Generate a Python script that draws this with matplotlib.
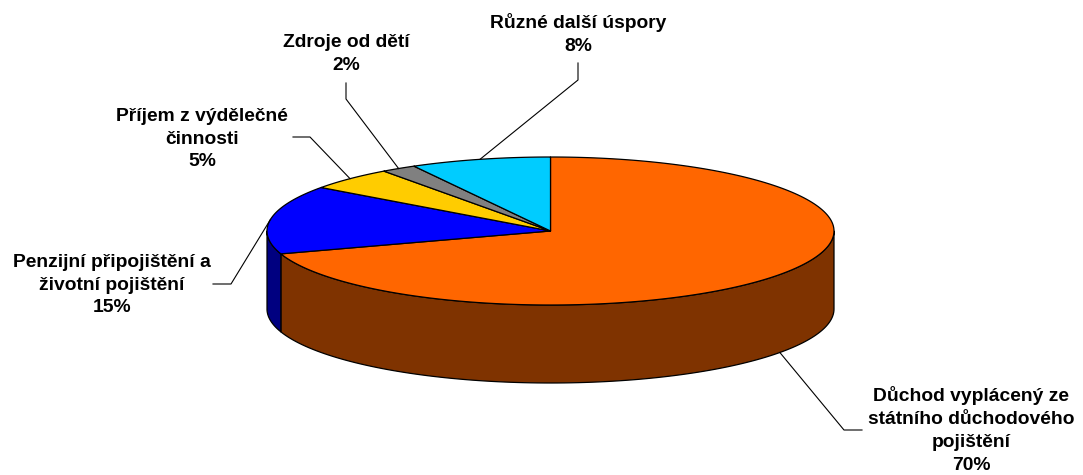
import numpy as np
import matplotlib
matplotlib.use("Agg")
import matplotlib.pyplot as plt
from matplotlib.patches import Polygon

# slice data (clockwise from 12 o'clock)
labels = ["Důchod vyplácený ze\nstátního důchodového\npojištění",
          "Penzijní připojištění a\nživotní pojištění",
          "Příjem z výdělečné\nčinnosti",
          "Zdroje od dětí",
          "Různé další úspory"]
values = [70, 15, 5, 2, 8]
pct_labels = ["70%", "15%", "5%", "2%", "8%"]
top_colors = ["#FF6600", "#0000FF", "#FFCC00", "#808080", "#00CCFF"]
side_colors = ["#7F3300", "#000080", "#7F6600", "#404040", "#00667F"]

# layout (pixel space)
CX, CY = 550.5, 231.0
RX, RY = 283.5, 74.0
DEPTH = 78.0
label_xy = [(971, 430), (112, 285), (202, 139), (346, 54), (578, 34)]
elbows = [[(844, 430), (862, 430)],
          [(231, 284), (213, 284)],
          [(310, 137), (293, 137)],
          [(346, 99), (346, 83)],
          [(578, 80), (578, 63)]]

FONT = dict(family="Liberation Sans", weight="bold", size=13.9)


def ell(theta, dy=0.0):
    t = np.radians(theta)
    return CX + RX * np.cos(t), CY - RY * np.sin(t) + dy


fig = plt.figure(figsize=(10.83, 4.75), dpi=100)
ax = fig.add_axes([0, 0, 1, 1])
ax.set_xlim(0, 1083)
ax.set_ylim(475, 0)
ax.axis("off")

total = float(sum(values))
fr = np.array(values) / total
cum = np.concatenate([[0], np.cumsum(fr)])
starts = 90 - 360 * cum[:-1]
ends = 90 - 360 * cum[1:]

# side walls (visible front half only)
for i in range(len(values)):
    a0, a1 = ends[i], starts[i]
    for k in (-1, 0, 1):
        lo, hi = max(a0, k * 360 - 180), min(a1, k * 360)
        if hi - lo <= 0:
            continue
        th = np.linspace(lo, hi, 120)
        xt, yt = ell(th)
        xb, yb = ell(th[::-1], DEPTH)
        pts = np.column_stack([np.concatenate([xt, xb]), np.concatenate([yt, yb])])
        ax.add_patch(Polygon(pts, closed=True, facecolor=side_colors[i],
                             edgecolor="black", lw=0.9, joinstyle="round"))

# top faces
for i in range(len(values)):
    th = np.linspace(starts[i], ends[i], 200)
    xt, yt = ell(th)
    pts = np.column_stack([np.concatenate([[CX], xt]), np.concatenate([[CY], yt])])
    ax.add_patch(Polygon(pts, closed=True, facecolor=top_colors[i],
                         edgecolor="black", lw=0.9, joinstyle="round"))

# leader lines and labels
for i in range(len(values)):
    mid = (starts[i] + ends[i]) / 2
    dy = DEPTH if np.sin(np.radians(mid)) < 0 else 0.0
    ax_, ay_ = ell(mid, dy)
    xs = [ax_] + [p[0] for p in elbows[i]]
    ys = [ay_] + [p[1] for p in elbows[i]]
    ax.plot(xs, ys, color="black", lw=0.8)
    ax.text(label_xy[i][0], label_xy[i][1], labels[i] + "\n" + pct_labels[i],
            ha="center", va="center", linespacing=1.45, **FONT)

fig.savefig("out.png", dpi=100)
